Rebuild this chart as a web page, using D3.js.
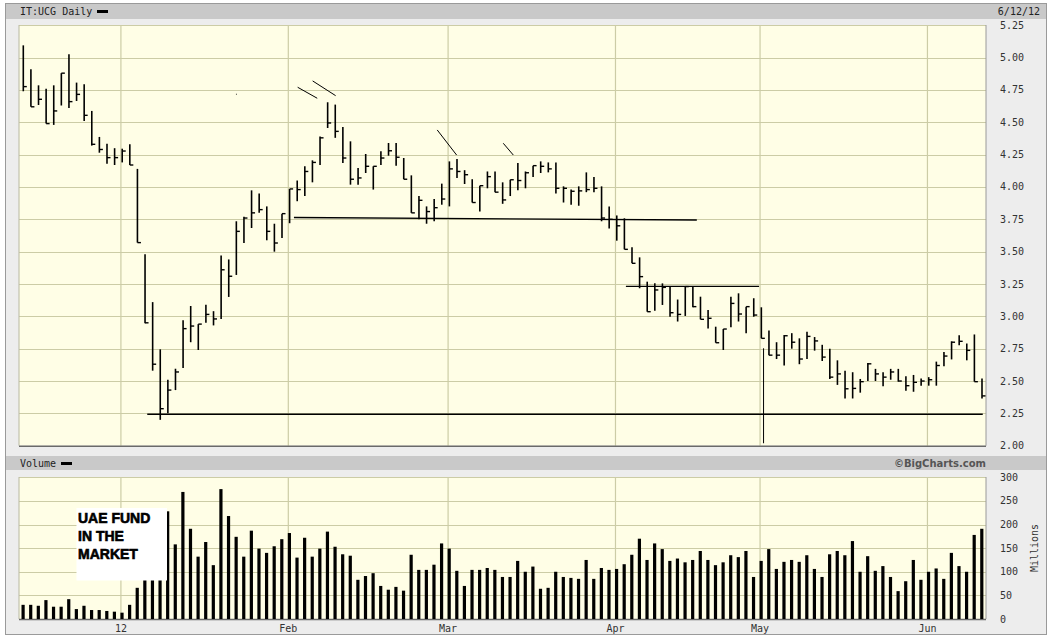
<!DOCTYPE html>
<html><head><meta charset="utf-8">
<script src="https://cdn.jsdelivr.net/npm/d3@7"></script>
<style>body{margin:0;background:#fff}</style>
</head><body>
<svg id="chart" width="1051" height="637"></svg>
<script>
// ---- Data: IT:UCG daily HLC, 13 Dec 2011 .. 12 Jun 2012 ----
const highs = [5.095,4.91,4.786,4.76,4.786,4.88,5.026,4.807,4.794,4.588,4.387,4.335,4.30,
  4.296,4.33,4.14,3.48,3.11,2.745,2.51,2.595,2.97,3.08,2.94,3.09,3.04,3.47,3.44,3.735,3.77,3.974,3.95,3.85,3.716,3.794,
  3.985,4.05,4.16,4.206,4.39,4.655,4.637,4.464,4.353,4.147,4.255,4.16,4.276,4.34,4.34,4.224,4.09,3.93,3.85,3.907,4.026,
  4.198,4.216,4.13,4.06,4.01,4.12,4.12,4.036,4.056,4.186,4.12,4.165,4.198,4.19,4.19,4.005,3.98,4.005,4.113,4.077,4.005,3.85,
  3.78,3.758,3.534,3.456,3.268,3.255,3.255,3.23,3.13,3.23,3.23,3.152,3.05,2.92,2.902,3.152,3.178,3.075,3.14,
  3.07,2.89,2.80,2.855,2.87,2.83,2.88,2.84,2.78,2.75,2.66,2.58,2.568,2.516,2.64,2.594,2.568,2.594,2.594,2.536,2.547,2.52,
  2.53,2.65,2.724,2.807,2.854,2.79,2.86,2.52];
const lows = [4.74,4.62,4.634,4.49,4.48,4.63,4.61,4.665,4.51,4.32,4.265,4.18,4.17,
  4.19,4.17,3.57,2.946,2.58,2.20,2.25,2.43,2.60,2.80,2.74,2.95,2.93,2.98,3.15,3.32,3.567,3.683,3.80,3.588,3.50,3.606,
  3.72,3.89,3.93,4.036,4.17,4.456,4.38,4.186,4.018,4.018,4.108,3.98,4.17,4.242,4.165,4.06,3.80,3.75,3.716,3.735,3.863,
  3.85,4.07,4.023,3.88,3.81,3.99,3.96,3.87,3.93,3.974,3.99,4.077,4.108,4.113,3.95,3.88,3.863,3.855,3.96,3.96,3.735,3.68,
  3.585,3.518,3.41,3.217,3.036,3.044,3.088,2.997,2.96,3.003,3.07,2.977,2.907,2.796,2.74,2.915,2.96,2.87,2.997,
  2.83,2.70,2.67,2.62,2.75,2.63,2.67,2.735,2.655,2.516,2.47,2.365,2.365,2.41,2.50,2.50,2.46,2.51,2.495,2.425,2.417,2.464,
  2.464,2.464,2.615,2.667,2.776,2.66,2.495,2.365];
const closes = [4.776,4.62,4.678,4.49,4.588,4.88,4.66,4.716,4.554,4.33,4.29,4.227,4.227,
  4.278,4.17,3.57,2.95,2.63,2.286,2.43,2.57,2.905,2.925,2.94,3.015,2.98,3.36,3.31,3.657,3.76,3.80,3.825,3.657,3.567,3.794,
  3.985,3.98,4.12,4.19,4.38,4.495,4.43,4.224,4.06,4.07,4.16,4.16,4.224,4.28,4.23,4.06,3.80,3.897,3.81,3.84,3.907,
  4.14,4.12,4.095,3.88,4.01,4.08,3.96,3.90,4.056,4.05,4.11,4.165,4.16,4.14,3.99,3.99,3.967,3.97,3.98,3.99,3.76,3.75,
  3.70,3.518,3.41,3.307,3.036,3.204,3.224,3.028,3.015,3.23,3.075,2.977,2.985,2.796,2.902,3.10,3.018,3.075,3.01,
  2.83,2.70,2.70,2.85,2.80,2.67,2.845,2.81,2.685,2.53,2.555,2.44,2.443,2.495,2.633,2.555,2.53,2.57,2.50,2.464,2.49,2.50,
  2.51,2.62,2.693,2.80,2.807,2.737,2.495,2.385];
// volume, millions of shares
const volumes = [30,30,28,40,26,26,42,21,28,19,19,17,15.5,
  13.4,30,66,100,110,95,228,158,269,191,132,163,114,275,218,174,132,187,149,140,154,169,
  182,130,172,132,149,185,153,137,134,83,91,97,70,62,68,60,136,104,104,115,160,
  149,102,70,104,104,108,104,89,89,123,100,111,64,66,100,89,87,85,125,85,108,104,
  106,116,136,170,125,160,148,123,128,120,125,144,125,114,120,135,131,144,89,
  123,148,106,121,125,121,135,106,89,137,144,135,165,100,133,102,112,89,59,80,125,83,
  100,107,85,140,112,100,178,191];
const priceTicks = [2.00,2.25,2.50,2.75,3.00,3.25,3.50,3.75,4.00,4.25,4.50,4.75,5.00,5.25];
const volumeTicks = [0,50,100,150,200,250,300];
const monthStarts = ["2012-01-02","2012-02-01","2012-03-01","2012-04-02","2012-05-02","2012-06-01"];
const monthLabels = ["12","Feb","Mar","Apr","May","Jun"];
const holidays = ["2011-12-26","2012-04-06","2012-04-09","2012-05-01"];
// hand-drawn annotation lines: [dayIndex1, price1, dayIndex2, price2]
const drawnLines = [
  [16.29,2.243,126.1,2.243],
  [35.57,3.764,88.52,3.745],
  [79.2,3.232,96.7,3.232],
  [36.06,4.771,38.63,4.686],
  [38.03,4.820,41.05,4.706],
  [54.40,4.441,56.95,4.247],
  [63.08,4.338,64.40,4.247],
  [97.29,2.753,97.29,2.019],
  [27.95,4.717,28.05,4.717]
];
const noteLines = ["UAE FUND","IN THE","MARKET"];

// ---- trading-day categories ----
const dates = [];
(function(){
  let d = new Date(Date.UTC(2011,11,13)); const end = new Date(Date.UTC(2012,5,12));
  const fmt = d3.utcFormat("%Y-%m-%d");
  while (d <= end) {
    const s = fmt(d), wd = d.getUTCDay();
    if (wd !== 0 && wd !== 6 && !holidays.includes(s)) dates.push(s);
    d = new Date(d.getTime() + 86400000);
  }
})();

const svg = d3.select("#chart");
const W = 1051, H = 637;
const plotL = 19, plotR = 986;
const mono = "'DejaVu Sans Mono', monospace";

// background / frame
svg.append("rect").attr("x",0).attr("y",0).attr("width",W).attr("height",H).attr("fill","#fff");
svg.append("rect").attr("x",5.5).attr("y",3.5).attr("width",1041).attr("height",631).attr("fill","#ededed").attr("stroke","#9a9a9a");
// header bars
svg.append("rect").attr("x",6).attr("y",4).attr("width",1040).attr("height",15).attr("fill","#c9c9c9");
svg.append("rect").attr("x",6).attr("y",456).attr("width",1040).attr("height",14).attr("fill","#c9c9c9");

const x = d3.scaleLinear().domain([0, dates.length-1]).range([23.3, 982]);
const yP = d3.scaleLinear().domain([2, 5.25]).range([445.7, 25.3]);
const yV = d3.scaleLinear().domain([0, 300]).range([619, 477.3]);

function panel(top, bottom, ticks, yScale, fmt){
  svg.append("rect").attr("x",plotL).attr("y",top).attr("width",plotR-plotL).attr("height",bottom-top).attr("fill","#fffee6");
  const g = svg.append("g");
  g.selectAll("line.h").data(ticks).join("line")
    .attr("x1",plotL).attr("x2",plotR).attr("y1",d=>Math.round(yScale(d))+0.5).attr("y2",d=>Math.round(yScale(d))+0.5)
    .attr("stroke","#cccca6").attr("stroke-width",1.2);
  g.selectAll("line.v").data(monthStarts).join("line")
    .attr("x1",d=>x(dates.indexOf(d))-1.3).attr("x2",d=>x(dates.indexOf(d))-1.3).attr("y1",top).attr("y2",bottom)
    .attr("stroke","#cccca6").attr("stroke-width",1.2);
  svg.append("line").attr("x1",plotL).attr("x2",plotL).attr("y1",top).attr("y2",bottom).attr("stroke","#b8b8a0");
  svg.append("line").attr("x1",plotR).attr("x2",plotR).attr("y1",top).attr("y2",bottom).attr("stroke","#9a9a9a");
  svg.append("line").attr("x1",plotL).attr("x2",plotR).attr("y1",bottom+0.5).attr("y2",bottom+0.5).attr("stroke","#6a6a6a").attr("stroke-width",1.5);
  svg.selectAll(null).data(ticks).join("text")
    .attr("x",1000).attr("y",d=>yScale(d)+3.5).text(fmt)
    .attr("font-family",mono).attr("font-size",10).attr("fill","#333");
}
panel(25, 445.7, priceTicks, yP, d=>d.toFixed(2));
panel(477, 619, volumeTicks, yV, d=>String(d));

// price HLC bars
const bars = svg.append("g").attr("stroke","#000");
dates.forEach((d,i)=>{
  bars.append("line").attr("x1",x(i)).attr("x2",x(i)).attr("y1",yP(highs[i])).attr("y2",yP(lows[i])).attr("stroke-width",1.6);
  bars.append("line").attr("x1",x(i)).attr("x2",x(i)+3.5).attr("y1",yP(closes[i])).attr("y2",yP(closes[i])).attr("stroke-width",1.4);
});
// drawn annotation lines
svg.append("g").selectAll("line").data(drawnLines).join("line")
  .attr("x1",d=>x(d[0])).attr("y1",d=>yP(d[1])).attr("x2",d=>x(d[2])).attr("y2",d=>yP(d[3]))
  .attr("stroke","#000").attr("stroke-width",(d,i)=>i<3?1.4:1);

// volume bars
svg.append("g").selectAll("rect").data(volumes).join("rect")
  .attr("x",(d,i)=>x(i)-1.8).attr("width",3.2)
  .attr("y",d=>yV(d)).attr("height",d=>yV(0)-yV(d)).attr("fill","#000");

// note box
svg.append("rect").attr("x",76.5).attr("y",508).attr("width",90.5).attr("height",72.5).attr("fill","#fff");
svg.selectAll(null).data(noteLines).join("text")
  .attr("x",78).attr("y",(d,i)=>523+i*18).text(d=>d)
  .attr("font-family","'Liberation Sans', Arial, sans-serif").attr("font-weight","bold").attr("font-size",14)
  .attr("fill","#000").attr("stroke","#000").attr("stroke-width",0.6);

// month labels
svg.selectAll(null).data(monthStarts).join("text")
  .attr("x",d=>x(dates.indexOf(d))-1.3).attr("y",632).attr("text-anchor","middle")
  .text((d,i)=>monthLabels[i]).attr("font-family",mono).attr("font-size",10).attr("fill","#333");

// header texts
svg.append("text").attr("x",20).attr("y",15).text("IT:UCG Daily").attr("font-family",mono).attr("font-size",10).attr("fill","#222");
svg.append("rect").attr("x",97).attr("y",10).attr("width",11).attr("height",3).attr("fill","#000");
svg.append("text").attr("x",1040).attr("y",15).attr("text-anchor","end").text("6/12/12").attr("font-family",mono).attr("font-size",10).attr("fill","#222");
svg.append("text").attr("x",20).attr("y",467).text("Volume").attr("font-family",mono).attr("font-size",10).attr("fill","#222");
svg.append("rect").attr("x",61).attr("y",462).attr("width",11).attr("height",3).attr("fill","#000");
svg.append("text").attr("x",986).attr("y",467).attr("text-anchor","end").text("©BigCharts.com")
  .attr("font-family","'DejaVu Sans', Verdana, sans-serif").attr("font-weight","bold").attr("font-size",10).attr("fill","#555");
svg.append("text").attr("transform","translate(1038,548) rotate(-90)").attr("text-anchor","middle").text("Millions")
  .attr("font-family",mono).attr("font-size",10).attr("fill","#333");
</script>
</body></html>
